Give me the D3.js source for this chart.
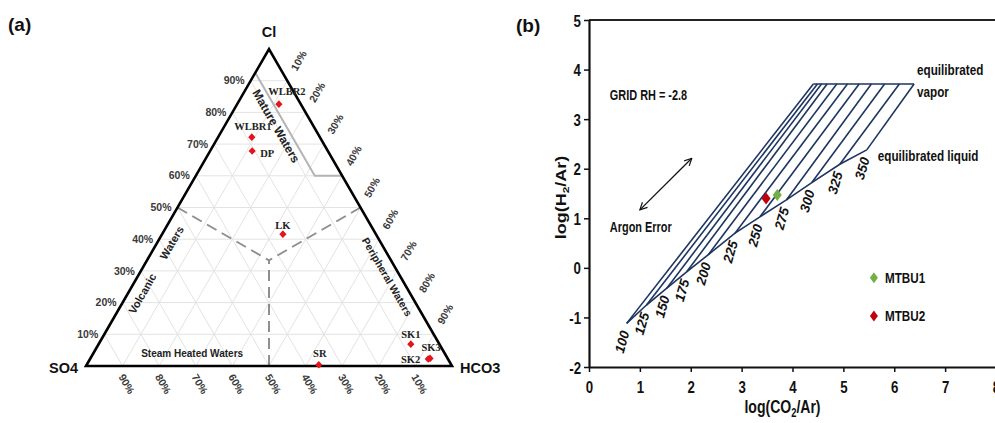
<!DOCTYPE html>
<html>
<head>
<meta charset="utf-8">
<script src="https://cdn.jsdelivr.net/npm/d3@7"></script>
<style>
  html, body { margin: 0; padding: 0; background: #fff; }
  svg { display: block; }
</style>
</head>
<body>
<svg id="chart" width="995" height="423"></svg>
<script>
// ---------- (a) ternary Cl - SO4 - HCO3 ----------
const samples = ["WLBR2", "WLBR1", "DP", "LK", "SR", "SK1", "SK2", "SK3"];
const clPct   = [82.6, 72.2, 67.8, 41.6, 0.4, 6.9, 2.2, 2.4];
const so4Pct  = [6.0, 18.6, 20.7, 25.4, 36.2, 7.8, 5.4, 4.8];
const hco3Pct = [11.4, 9.2, 11.5, 33.0, 63.4, 85.3, 92.4, 92.8];
const ternaryTicks = [10, 20, 30, 40, 50, 60, 70, 80, 90];

// ---------- (b) CO2/Ar - H2/Ar grid ----------
const temps     = [100, 125, 150, 175, 200, 225, 250, 275, 300, 325, 350];
const liquidCO2 = [0.74, 1.13, 1.53, 1.92, 2.34, 2.87, 3.36, 3.88, 4.38, 4.93, 5.46];
const liquidH2  = [-1.12, -0.75, -0.41, -0.08, 0.26, 0.70, 1.03, 1.37, 1.72, 2.09, 2.38];
const vaporCO2  = [4.41, 4.49, 4.57, 4.68, 4.87, 5.08, 5.31, 5.55, 5.81, 6.10, 6.39];
const vaporH2   = [3.71, 3.71, 3.71, 3.71, 3.71, 3.71, 3.71, 3.71, 3.71, 3.71, 3.71];
const gasSamples = ["MTBU1", "MTBU2"];
const gasCO2     = [3.70, 3.48];
const gasH2      = [1.47, 1.40];
const gasColors  = ["#72b045", "#c0000c"];
const xTicks = [0, 1, 2, 3, 4, 5, 6, 7, 8];
const yTicks = [-2, -1, 0, 1, 2, 3, 4, 5];

const SANS  = "'Liberation Sans', Arial, Helvetica, sans-serif";
const SERIF = "'Liberation Serif', 'Times New Roman', serif";

const svg = d3.select("#chart");

// ======================= panel (a) =======================
const ga = svg.append("g");
const tx = d3.scaleLinear().domain([0, 100]).range([86, 452]);
const ty = d3.scaleLinear().domain([0, 100]).range([366, 49]);
function tp(cl, so4, hco3) {
  const s = cl + so4 + hco3;
  const c = cl * 100 / s, h = hco3 * 100 / s;
  return [tx(h + c / 2), ty(c)];
}

// light 10% grid in the three directions
const gridSegs = [];
ternaryTicks.forEach(v => {
  gridSegs.push([tp(v, 100 - v, 0), tp(v, 0, 100 - v)]);
  gridSegs.push([tp(100 - v, v, 0), tp(0, v, 100 - v)]);
  gridSegs.push([tp(100 - v, 0, v), tp(0, 100 - v, v)]);
});
ga.selectAll("line.grid").data(gridSegs).join("line")
  .attr("class", "grid")
  .attr("x1", d => d[0][0]).attr("y1", d => d[0][1])
  .attr("x2", d => d[1][0]).attr("y2", d => d[1][1])
  .attr("stroke", "#e3e3e3").attr("stroke-width", 1);

// field boundaries
const line = d3.line();
ga.append("path")
  .attr("d", line([tp(92.5, 7.5, 0), tp(60, 7.5, 32.5), tp(60, 0, 40)]))
  .attr("fill", "none").attr("stroke", "#b4b4b4").attr("stroke-width", 2);
const centre = tp(1, 1, 1);
[[50, 50, 0], [50, 0, 50], [0, 50, 50]].forEach(m => {
  ga.append("path")
    .attr("d", line([tp(...m), centre]))
    .attr("fill", "none").attr("stroke", "#8f8f8f")
    .attr("stroke-width", 2).attr("stroke-dasharray", "11,6");
});

// outline
ga.append("path")
  .attr("d", line([tp(0, 100, 0), tp(100, 0, 0), tp(0, 0, 100)]) + "Z")
  .attr("fill", "none").attr("stroke", "#000").attr("stroke-width", 2.6)
  .attr("stroke-linejoin", "miter");

// percent labels on the three sides
const pctStyle = sel => sel.attr("font-family", SANS).attr("font-weight", "bold")
  .attr("font-size", 10.5).attr("fill", "#3a3a3a");
ternaryTicks.forEach(v => {
  const pl = tp(v, 100 - v, 0);
  ga.append("text").call(pctStyle)
    .attr("x", pl[0] - 6).attr("y", pl[1]).attr("dy", "0.35em")
    .attr("text-anchor", "end").text(v + "%");
  const pr = tp(100 - v, 0, v);
  ga.append("text").call(pctStyle)
    .attr("transform", `translate(${pr[0] + 11.5},${pr[1] - 20}) rotate(-60)`)
    .attr("text-anchor", "middle").attr("dy", "0.35em").text(v + "%");
  const pb = tp(0, v, 100 - v);
  ga.append("text").call(pctStyle)
    .attr("transform", `translate(${pb[0] + 4},${pb[1] + 18}) rotate(60)`)
    .attr("text-anchor", "middle").attr("dy", "0.35em").text(v + "%");
});

// vertex names
const vtxStyle = sel => sel.attr("font-family", SANS).attr("font-weight", "bold")
  .attr("font-size", 14.5).attr("fill", "#111");
const vCl = tp(100, 0, 0), vS = tp(0, 100, 0), vH = tp(0, 0, 100);
ga.append("text").call(vtxStyle).attr("x", vCl[0]).attr("y", vCl[1] - 12.5)
  .attr("text-anchor", "middle").text("Cl");
ga.append("text").call(vtxStyle).attr("x", vS[0] - 8).attr("y", vS[1] + 7)
  .attr("text-anchor", "end").text("SO4");
ga.append("text").call(vtxStyle).attr("x", vH[0] + 8).attr("y", vH[1] + 7)
  .attr("text-anchor", "start").text("HCO3");

// field names
const fields = [
  { text: "Mature Waters", at: [75.7, 10.2, 14.1], rot: 60, size: 12 },
  { text: "Volcanic\u00a0\u00a0\u00a0\u00a0\u00a0\u00a0Waters", at: [30.3, 65.7, 4.0], rot: -60, size: 11 },
  { text: "Peripheral Waters", at: [28.1, 3.7, 68.2], rot: 60, size: 10.5 },
  { text: "Steam Heated Waters", at: [3.8, 69.1, 27.1], rot: 0, size: 10 }
];
fields.forEach(f => {
  const p = tp(...f.at);
  ga.append("text")
    .attr("transform", `translate(${p[0]},${p[1]}) rotate(${f.rot})`)
    .attr("text-anchor", "middle").attr("dy", "0.35em")
    .attr("font-family", SANS).attr("font-weight", "bold")
    .attr("font-size", f.size).attr("fill", "#222").text(f.text);
});

// samples
const labelPlace = {
  WLBR2: { dx: 8, dy: -9, anchor: "middle" },
  WLBR1: { dx: 1, dy: -7, anchor: "middle" },
  DP:    { dx: 8, dy: 5.5, anchor: "start" },
  LK:    { dx: 0, dy: -5, anchor: "middle" },
  SR:    { dx: 1, dy: -8, anchor: "middle" },
  SK1:   { dx: 0, dy: -6, anchor: "middle" },
  SK2:   { dx: -8, dy: 3.5, anchor: "end" },
  SK3:   { dx: 1, dy: -7, anchor: "middle" }
};
const diamond = (w, h) => `M0,${-h}L${w},0L0,${h}L${-w},0Z`;
samples.forEach((name, i) => {
  const p = tp(clPct[i], so4Pct[i], hco3Pct[i]);
  ga.append("path").attr("d", diamond(3.6, 3.8))
    .attr("transform", `translate(${p[0]},${p[1]})`).attr("fill", "#e3141b");
  const lp = labelPlace[name];
  ga.append("text").attr("x", p[0] + lp.dx).attr("y", p[1] + lp.dy)
    .attr("text-anchor", lp.anchor)
    .attr("font-family", SERIF).attr("font-weight", "bold")
    .attr("font-size", 10.5).attr("fill", "#222").text(name);
});

ga.append("text").attr("x", 8).attr("y", 31)
  .attr("font-family", SANS).attr("font-weight", "bold").attr("font-size", 19)
  .attr("fill", "#111").text("(a)");

// ======================= panel (b) =======================
const gb = svg.append("g");
const x = d3.scaleLinear().domain([0, 8]).range([589, 996]);
const y = d3.scaleLinear().domain([-2, 5]).range([367, 20]);
const SQ = 0.78; // horizontal squeeze of the panel lettering

function squeezed(sel, px, py, size, anchor) {
  return sel.attr("transform", `translate(${px},${py}) scale(${SQ},1)`)
    .attr("text-anchor", anchor || "start")
    .attr("font-family", SANS).attr("font-weight", "bold")
    .attr("font-size", size).attr("fill", "#111");
}

// frame
gb.append("path")
  .attr("d", line([[x(0), y(5)], [x(8), y(5)], [x(8), y(-2)]]))
  .attr("fill", "none").attr("stroke", "#222").attr("stroke-width", 2);

// axes
const plain = d => String(d);
const ax = gb.append("g").attr("transform", `translate(0,${y(-2)})`)
  .call(d3.axisBottom(x).tickValues(xTicks).tickFormat(plain)
    .tickSizeInner(5).tickSizeOuter(0).tickPadding(9));
const ay = gb.append("g").attr("transform", `translate(${x(0)},0)`)
  .call(d3.axisLeft(y).tickValues(yTicks).tickFormat(plain)
    .tickSizeInner(5).tickSizeOuter(0).tickPadding(3));
[ax, ay].forEach(a => {
  a.select(".domain").attr("stroke", "#111").attr("stroke-width", 2.2);
  a.selectAll(".tick line").attr("stroke", "#111").attr("stroke-width", 1.5);
});
ax.selectAll(".tick text").each(function () {
  const t = d3.select(this);
  const yy = +t.attr("y");
  t.attr("y", null).attr("dy", null)
   .attr("transform", `translate(0,${yy + 12}) scale(${SQ},1)`)
   .attr("font-family", SANS).attr("font-weight", "bold")
   .attr("font-size", 17).attr("fill", "#111");
});
ay.selectAll(".tick text").each(function () {
  const t = d3.select(this);
  const xx = +t.attr("x");
  t.attr("x", null).attr("dy", null)
   .attr("transform", `translate(${xx},6) scale(${SQ},1)`)
   .attr("font-family", SANS).attr("font-weight", "bold")
   .attr("font-size", 17).attr("fill", "#111");
});

// axis titles
const xt = gb.append("text");
squeezed(xt, (x(0) + x(8)) / 2 - 10, 413, 18, "middle");
xt.append("tspan").text("log(CO");
xt.append("tspan").attr("font-size", 12).attr("dy", 4).text("2");
xt.append("tspan").attr("dy", -4).text("/Ar)");

const yt = gb.append("text")
  .attr("transform", `translate(566,${(y(-2) + y(5)) / 2 + 4}) scale(${SQ},1) rotate(-90)`)
  .attr("text-anchor", "middle").attr("font-family", SANS).attr("font-weight", "bold")
  .attr("font-size", 18).attr("fill", "#111");
yt.append("tspan").text("log(H");
yt.append("tspan").attr("font-size", 12).attr("dy", 4).text("2");
yt.append("tspan").attr("dy", -4).text("/Ar)");

// temperature grid
const gridColor = "#1d3560";
temps.forEach((t, i) => {
  gb.append("line")
    .attr("x1", x(liquidCO2[i])).attr("y1", y(liquidH2[i]))
    .attr("x2", x(vaporCO2[i])).attr("y2", y(vaporH2[i]))
    .attr("stroke", gridColor).attr("stroke-width", 1.6);
});
gb.append("path")
  .attr("d", line(temps.map((t, i) => [x(liquidCO2[i]), y(liquidH2[i])])))
  .attr("fill", "none").attr("stroke", gridColor).attr("stroke-width", 1.6);
gb.append("path")
  .attr("d", line([[x(vaporCO2[0]), y(vaporH2[0])], [x(vaporCO2[10]), y(vaporH2[10])]]))
  .attr("fill", "none").attr("stroke", gridColor).attr("stroke-width", 1.6);

temps.forEach((t, i) => {
  gb.append("text")
    .attr("transform", `translate(${x(liquidCO2[i]) + 3},${y(liquidH2[i]) + 9}) rotate(-74)`)
    .attr("text-anchor", "end")
    .attr("font-family", SANS).attr("font-weight", "bold").attr("font-style", "italic")
    .attr("font-size", 13.5).attr("fill", "#111").text(t);
});

// end-member notes
const vEnd = [x(vaporCO2[10]), y(vaporH2[10])];
const lEnd = [x(liquidCO2[10]), y(liquidH2[10])];
squeezed(gb.append("text"), vEnd[0] + 3, vEnd[1] - 9, 15).text("equilibrated");
squeezed(gb.append("text"), vEnd[0] + 3, vEnd[1] + 13, 15).text("vapor");
squeezed(gb.append("text"), lEnd[0] + 11, lEnd[1] + 11, 15).text("equilibrated liquid");

squeezed(gb.append("text"), x(0.41), y(3.38), 14).text("GRID RH = -2.8");
squeezed(gb.append("text"), x(0.41), y(0.72), 14).text("Argon Error");

// argon error double arrow
const defs = svg.append("defs");
defs.append("marker").attr("id", "vhead")
  .attr("viewBox", "0 0 10 10").attr("refX", 9).attr("refY", 5)
  .attr("markerWidth", 9).attr("markerHeight", 9)
  .attr("markerUnits", "userSpaceOnUse").attr("orient", "auto-start-reverse")
  .append("path").attr("d", "M1,1L9,5L1,9")
  .attr("fill", "none").attr("stroke", "#111").attr("stroke-width", 1.3);
gb.append("line")
  .attr("x1", x(1.0)).attr("y1", y(1.17)).attr("x2", x(2.02)).attr("y2", y(2.21))
  .attr("stroke", "#111").attr("stroke-width", 1.3)
  .attr("marker-start", "url(#vhead)").attr("marker-end", "url(#vhead)");

// gas samples
gasSamples.forEach((n, i) => {
  gb.append("path").attr("d", diamond(4.5, 6))
    .attr("transform", `translate(${x(gasCO2[i])},${y(gasH2[i])})`)
    .attr("fill", gasColors[i]);
});

// legend
const legY = [-0.2, -0.97];
gasSamples.forEach((n, i) => {
  const lx = x(5.6), ly = y(legY[i]);
  gb.append("path").attr("d", diamond(4, 5.5))
    .attr("transform", `translate(${lx},${ly})`).attr("fill", gasColors[i]);
  squeezed(gb.append("text"), lx + 11, ly + 5.5, 15).text(n);
});

gb.append("text").attr("x", 516).attr("y", 32)
  .attr("font-family", SANS).attr("font-weight", "bold").attr("font-size", 19)
  .attr("fill", "#111").text("(b)");
</script>
</body>
</html>
